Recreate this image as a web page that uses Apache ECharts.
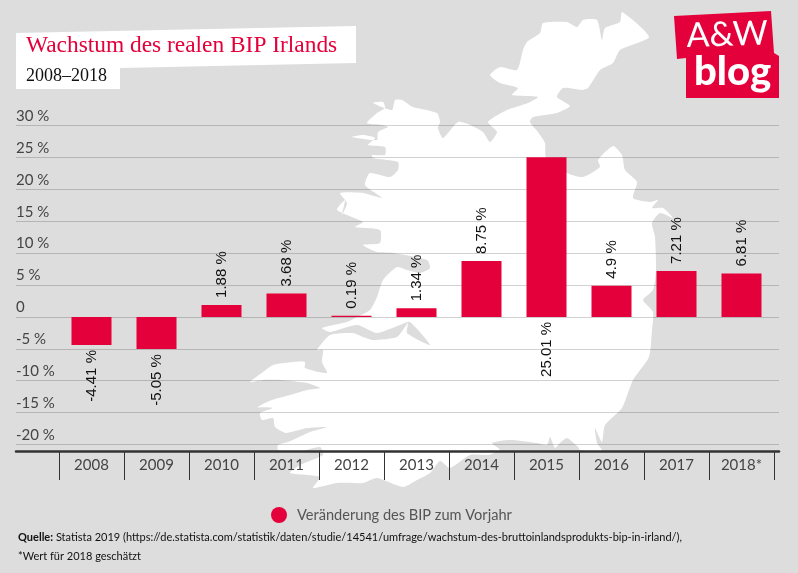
<!DOCTYPE html>
<html style="height: 100%">
<head>
<meta charset="utf-8">
</head>
<body style="height: 100%; margin: 0; background: #dddddd">
<div id="container" style="width: 798px; height: 573px;"></div>
<script type="text/javascript" src="https://cdn.jsdelivr.net/npm/echarts@6/dist/echarts.min.js"></script>
<script type="text/javascript">
var categories = ['2008', '2009', '2010', '2011', '2012', '2013', '2014', '2015', '2016', '2017', '2018*'];
var growth = [-4.41, -5.05, 1.88, 3.68, 0.19, 1.34, 8.75, 25.01, 4.9, 7.21, 6.81];
var seriesName = 'Veränderung des BIP zum Vorjahr';

var red = '#e4003a';
var axisFont = 'Lato';

// background shapes, traced by hand
var irelandOutline = [
  [622,12],[649,37],[620,50],[613,63],[600,70],[588,88],[582,90],[563,88],[557,97],[570,106],[557,113],[533,117],[530,122],
  [538,132],[545,143],[546,157],[567,173],[583,177],[600,167],[598,160],[613,146],[622,155],[625,170],[637,182],[633,198],
  [650,202],[658,200],[652,208],[663,208],[673,218],[660,213],[652,223],[655,237],[656,270],[653,290],[643,300],[653,312],
  [652,330],[649,357],[633,380],[622,408],[605,425],[602,442],[595,428],[597,443],[603,452],[580,450],[578,447],[567,438],
  [560,443],[555,448],[550,437],[547,445],[537,443],[510,440],[492,443],[500,450],[488,455],[470,455],[450,468],[440,461],
  [430,473],[417,480],[403,487],[377,478],[363,483],[337,483],[313,488],[320,477],[290,473],[300,465],[323,455],[320,447],
  [297,452],[278,450],[278,445],[288,442],[297,438],[310,432],[327,427],[307,428],[287,433],[283,432],[275,427],[273,418],
  [262,420],[260,413],[273,408],[258,407],[272,400],[290,395],[307,390],[320,388],[307,383],[280,380],[263,380],[250,382],
  [263,372],[273,365],[293,362],[305,362],[305,368],[327,373],[322,362],[323,350],[317,350],[330,335],[353,333],[363,337],
  [373,340],[397,337],[408,323],[407,333],[430,345],[410,322],[400,325],[377,333],[357,325],[330,332],[322,328],[347,322],
  [357,317],[370,310],[377,297],[383,280],[397,267],[407,270],[420,273],[430,268],[427,260],[393,253],[377,252],[363,245],
  [380,243],[380,230],[355,227],[363,222],[337,210],[345,200],[342,215],[347,203],[340,193],[363,193],[382,198],[365,185],
  [370,173],[390,177],[398,170],[398,162],[373,158],[372,155],[385,155],[385,147],[368,145],[375,138],[363,135],[352,137],
  [377,140],[378,132],[388,127],[382,125],[367,123],[377,113],[385,108],[383,102],[373,103],[392,110],[395,100],[402,100],
  [413,107],[437,113],[440,122],[438,128],[443,138],[458,122],[470,125],[483,132],[490,142],[497,132],[488,122],[507,110],
  [528,103],[538,97],[512,95],[518,88],[500,83],[490,75],[500,67],[517,70],[523,50],[527,42],[540,33],[543,23],[567,22],
  [577,27],[583,20],[597,20],[602,40],[605,28],[620,22]
];
var titleBox = [[16,33],[356,26],[356,63],[120,68],[120,89],[16,89]];
var logoBox = [[674,16],[771,11],[774,53],[779,56],[779,98],[686,98],[686,58],[677,59]];

function growthLabel(p) {
  return p.value + ' %';
}
function yTick(v) {
  return v === 0 ? '0' : v + ' %';
}

var barData = growth.map(function (v) {
  // the 2015 label sits under the bar in the original
  var below = v < 0 || v > 20;
  return {
    value: v,
    label: { position: below ? 'bottom' : 'top', align: below ? 'right' : 'left', distance: below ? 5 : 7 }
  };
});

var dom = document.getElementById('container');
var myChart = echarts.init(dom);
var option = {
  backgroundColor: '#dddddd',
  animation: false,
  title: [
    { text: 'Wachstum des realen BIP Irlands', left: 26, top: 34, padding: 0, textStyle: { fontFamily: 'Liberation Serif', fontWeight: 'normal', fontSize: 23.4, color: red } },
    { text: '2008–2018', left: 26, top: 67, padding: 0, textStyle: { fontFamily: 'Liberation Serif', fontWeight: 'normal', fontSize: 18, color: '#111' } },
    { text: '{b|Quelle:} Statista 2019 (https://de.statista.com/statistik/daten/studie/14541/umfrage/wachstum-des-bruttoinlandsprodukts-bip-in-irland/),', left: 18, top: 532, padding: 0,
      textStyle: { fontFamily: axisFont, fontWeight: 'normal', fontSize: 11, color: '#111', rich: { b: { fontFamily: axisFont, fontWeight: 'bold', fontSize: 11, color: '#111' } } } },
    { text: '*Wert für 2018 geschätzt', left: 18, top: 551, padding: 0, textStyle: { fontFamily: axisFont, fontWeight: 'normal', fontSize: 11, color: '#111' } }
  ],
  legend: {
    data: [seriesName],
    left: 271,
    top: 507,
    padding: 0,
    icon: 'circle',
    itemWidth: 16,
    itemHeight: 16,
    itemGap: 0,
    textStyle: { fontFamily: axisFont, fontSize: 14.6, color: '#555', padding: [0, 0, 0, 5] }
  },
  grid: [
    { left: 16, right: 19, top: 125.5, bottom: 128.5 },
    { left: 59, right: 24, top: 125.5, bottom: 128.5 }
  ],
  xAxis: [
    { gridIndex: 0, type: 'value', min: 0, max: 1, position: 'bottom', offset: 6.5,
      axisLine: { show: true, onZero: false, lineStyle: { color: '#333', width: 2.5 } },
      axisTick: { show: false }, axisLabel: { show: false }, splitLine: { show: false } },
    { gridIndex: 1, type: 'category', data: categories, position: 'bottom', offset: 6.5,
      axisLine: { show: false, onZero: false },
      axisTick: { show: true, length: 29, lineStyle: { color: '#333', width: 1 } },
      axisLabel: { margin: 7, fontFamily: axisFont, fontSize: 15, color: '#444' } }
  ],
  yAxis: [
    { gridIndex: 0, type: 'value', min: -20, max: 30, interval: 5,
      axisLine: { show: false }, axisTick: { show: false },
      splitLine: { lineStyle: { color: 'rgba(0,0,0,0.18)', width: 1 } },
      axisLabel: { inside: true, margin: 0, verticalAlign: 'bottom', padding: [0, 0, 2, 0], formatter: yTick, fontFamily: axisFont, fontSize: 15, color: '#444' } },
    { gridIndex: 1, type: 'value', min: -20, max: 30, interval: 5, show: false }
  ],
  series: [{
    name: seriesName,
    type: 'bar',
    xAxisIndex: 1,
    yAxisIndex: 1,
    barWidth: 40,
    itemStyle: { color: red },
    data: barData,
    label: { show: true, rotate: 90, verticalAlign: 'middle', formatter: growthLabel, fontFamily: 'Liberation Sans', fontSize: 15, color: '#111' }
  }],
  graphic: [
    { type: 'polygon', z: -10, shape: { points: irelandOutline, smooth: 0.2 }, style: { fill: '#fff' } },
    { type: 'polygon', z: -9, shape: { points: titleBox }, style: { fill: '#fff' } },
    { type: 'polygon', z: -9, shape: { points: logoBox }, style: { fill: red } },
    { type: 'text', z: 5, x: 686, y: 19, rotation: 0.03, style: { text: 'A&W', fill: '#fff', font: '400 34px Lato' } },
    { type: 'text', z: 5, x: 694, y: 52, style: { text: 'blog', fill: '#fff', font: '900 40px Lato' } }
  ]
};

myChart.setOption(option, true);
</script>
</body>
</html>
